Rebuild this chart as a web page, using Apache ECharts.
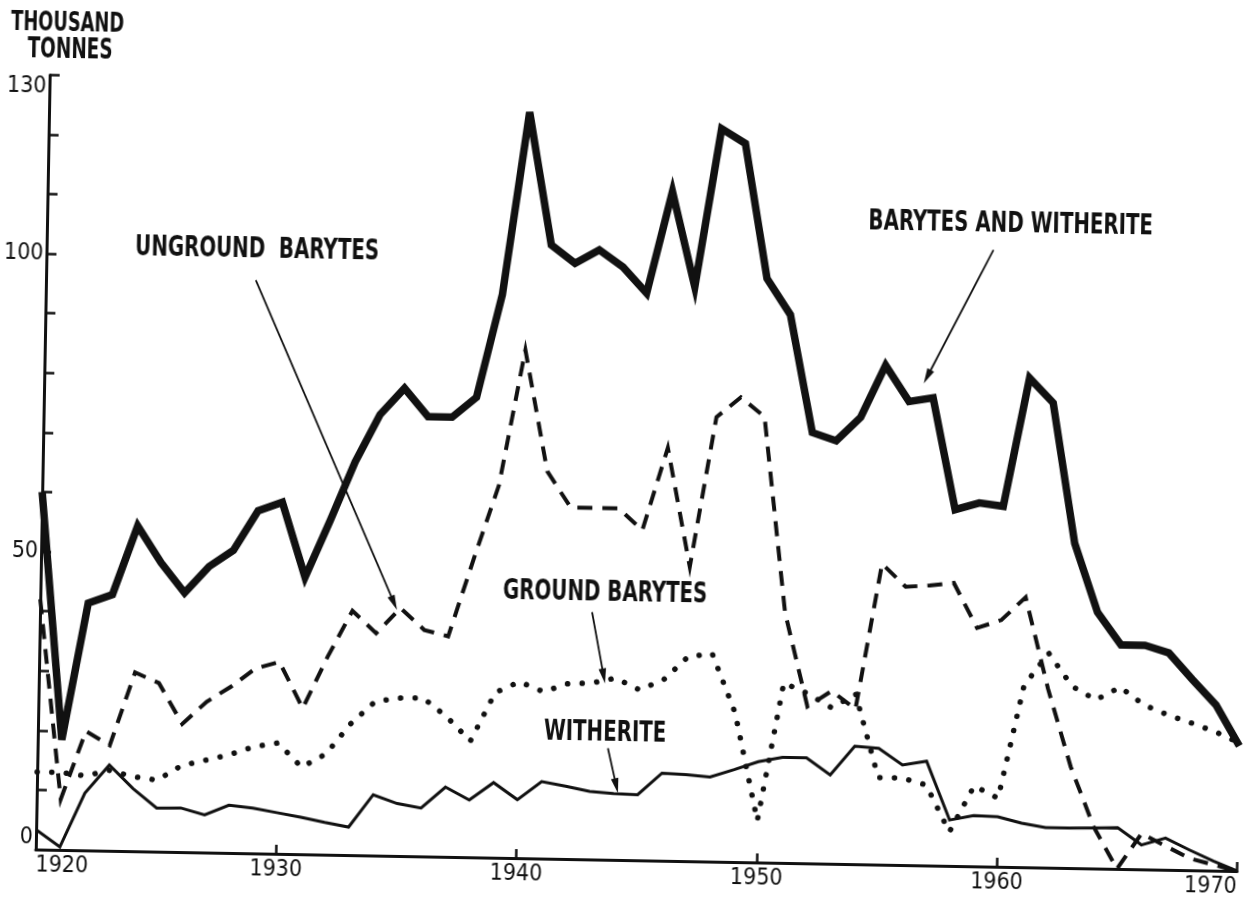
<!DOCTYPE html>
<html><head><meta charset="utf-8">
<script src="https://cdn.jsdelivr.net/npm/echarts@6/dist/echarts.min.js"></script>
<style>
html,body{margin:0;padding:0;background:#fff;overflow:hidden}
#chart{width:1252px;height:904px;transform:rotate(1.03deg);transform-origin:626px 452px;}
</style></head>
<body><div id="chart"></div>
<script>
const years = [1920,1921,1922,1923,1924,1925,1926,1927,1928,1929,
  1930,1931,1932,1933,1934,1935,1936,1937,1938,1939,
  1940,1941,1942,1943,1944,1945,1946,1947,1948,1949,
  1950,1951,1952,1953,1954,1955,1956,1957,1958,1959,
  1960,1961,1962,1963,1964,1965,1966,1967,1968,1969,1970];

const barytesAndWitherite = [60,18.5,41.5,43,54.6,48.5,43.5,48,50.8,57.5,
  59,46.5,56,66,74,78.5,73.8,73.8,77.2,94.5,
  125.2,103,100,102.3,99.5,95.2,112.3,96.4,123,120.6,
  98,92,72.3,71,75,83.8,77.8,78.5,59.8,61,
  60.5,82.1,78,54.5,43,37.6,37.6,36.4,32,27.8,21];

const ungroundBarytes = [42,8.5,20,17.7,30,28.3,21.5,25.3,27.9,31,
  32.2,24.5,33.2,41,37.3,41.6,38,37,50,62.5,
  85.3,65,59,59,59,55.4,69.3,49.4,74.6,78,
  74.8,42,26.3,29,26,50.5,46.7,47,47.5,40,
  41.4,45.3,30,17,7,0,6,4,2,1,0];

const groundBarytes = [13,13,12.5,13.5,12.5,12,14.5,15.5,16.5,17.9,
  18.6,14.6,16.9,22,25.8,26.5,26.6,23.5,19.5,27.7,
  29.6,28,29.4,29.6,30.5,28.6,30.4,34.3,34.9,25,
  7,30.2,28.5,26.2,28.5,14.6,14.6,13.5,5.7,13.5,
  11.5,30.5,36,30.5,28.3,30.5,27.6,26,24.7,23.3,21.5];

const witherite = [3.3,0.5,9.6,14.4,10.5,7.3,7.4,6.3,8,7.6,
  6.9,6.2,5.4,4.7,10.2,8.8,8.1,11.7,9.6,12.6,
  9.8,12.9,12.2,11.4,11.1,11,14.7,14.5,14.2,15.5,
  16.9,17.7,17.7,14.9,19.8,19.5,16.8,17.5,7.7,8.5,
  8.4,7.4,6.7,6.7,6.8,6.9,4.1,5.3,3.4,1.6,0];

const xTickLabels = [1920,1930,1940,1950,1960,1970];
const yTickLabels = [0,50,100,130];
const yAxisTitleLines = ['THOUSAND', 'TONNES'];

// series labels, placed in data coordinates, with their pointer arrows
const annotationTexts = ['UNGROUND  BARYTES', 'BARYTES AND WITHERITE', 'GROUND BARYTES', 'WITHERITE'];
const annotationAt   = [[1928.76, 101.2], [1960.1, 107.7], [1943.5, 44.6], [1943.6, 21.2]];
const arrowFrom      = [[1928.73, 96.2], [1959.4, 103.5], [1942.97, 41.5], [1943.73, 18.7]];
const arrowTo        = [[1934.85, 41.3], [1956.6, 80.9], [1943.56, 29.6], [1944.18, 11.2]];

const FONT = "'DejaVu Sans Condensed','Liberation Sans Narrow','Arial Narrow',sans-serif";
const INK = '#111';

function pairs(vals){ return years.map((y,i)=>[y, vals[i]]); }

const chart = echarts.init(document.getElementById('chart'), null, {renderer:'canvas'});
chart.setOption({
  animation: false,
  backgroundColor: '#fff',
  grid: {left: 43, right: 7.5, top: 85.4, bottom: 44, containLabel: false, outerBoundsMode: 'none'},
  xAxis: {
    type: 'value', min: 1920, max: 1970, interval: 10,
    axisLine: {show: true, lineStyle: {color: INK, width: 3}},
    axisTick: {show: true, inside: true, length: 9, lineStyle: {color: INK, width: 2.5}},
    splitLine: {show: false},
    axisLabel: {color: INK, fontFamily: FONT, fontSize: 23, margin: 5,
      alignMinLabel: 'left', alignMaxLabel: 'right',
      formatter: v => xTickLabels.includes(v) ? String(v) : ''}
  },
  yAxis: {
    type: 'value', min: 0, max: 130, interval: 10,
    axisLine: {show: true, lineStyle: {color: INK, width: 3}},
    axisTick: {show: true, inside: true, length: 10, lineStyle: {color: INK, width: 2.5}},
    splitLine: {show: false},
    axisLabel: {color: INK, fontFamily: FONT, fontSize: 23, margin: 3,
      verticalAlignMinLabel: 'bottom', verticalAlignMaxLabel: 'top',
      formatter: v => yTickLabels.includes(v) ? String(v) : ''}
  },
  series: [
    {name: 'BARYTES AND WITHERITE', type: 'line', data: pairs(barytesAndWitherite), symbol: 'none', z: 5,
     lineStyle: {color: INK, width: 7.5, join: 'miter', miterLimit: 6}},
    {name: 'UNGROUND BARYTES', type: 'line', data: pairs(ungroundBarytes), symbol: 'none', z: 4,
     lineStyle: {color: INK, width: 4, type: [15, 10], join: 'miter'}},
    {name: 'GROUND BARYTES', type: 'line', data: pairs(groundBarytes), symbol: 'none', z: 3,
     lineStyle: {color: INK, width: 5.5, type: [0.1, 14.5], cap: 'round'}},
    {name: 'WITHERITE', type: 'line', data: pairs(witherite), symbol: 'none', z: 4,
     lineStyle: {color: INK, width: 3, join: 'miter'}}
  ]
});

// annotations: texts and arrows positioned through the chart's own coordinate system
(function addAnnotations(){
  const g = [];
  const textStyle = (t, size) => ({text: t, fill: INK, font: 'bold ' + size + 'px ' + FONT, textAlign: 'center', textVerticalAlign: 'middle'});
  g.push({type: 'text', x: 60, y: 34, scaleY: 1.35, silent: true, style: textStyle(yAxisTitleLines[0], 19.8)});
  g.push({type: 'text', x: 63, y: 61, scaleY: 1.35, silent: true, style: textStyle(yAxisTitleLines[1], 20.5)});
  annotationTexts.forEach((txt, i) => {
    const p = chart.convertToPixel({gridIndex: 0}, annotationAt[i]);
    const f = chart.convertToPixel({gridIndex: 0}, arrowFrom[i]);
    const t = chart.convertToPixel({gridIndex: 0}, arrowTo[i]);
    g.push({type: 'text', x: p[0], y: p[1], scaleY: 1.25, silent: true, z: 10, style: textStyle(txt, 22)});
    const dx = t[0] - f[0], dy = t[1] - f[1], L = Math.hypot(dx, dy), ux = dx / L, uy = dy / L;
    const hl = 15, hw = 3.8;
    const bx = t[0] - ux * hl, by = t[1] - uy * hl;
    g.push({type: 'line', silent: true, z: 10, shape: {x1: f[0], y1: f[1], x2: bx + ux * 3, y2: by + uy * 3},
      style: {stroke: INK, lineWidth: 1.8}});
    g.push({type: 'polygon', silent: true, z: 10, shape: {points: [[t[0], t[1]], [bx - uy * hw, by + ux * hw], [bx + uy * hw, by - ux * hw]]},
      style: {fill: INK}});
  });
  chart.setOption({graphic: g});
})();
</script>
</body></html>
